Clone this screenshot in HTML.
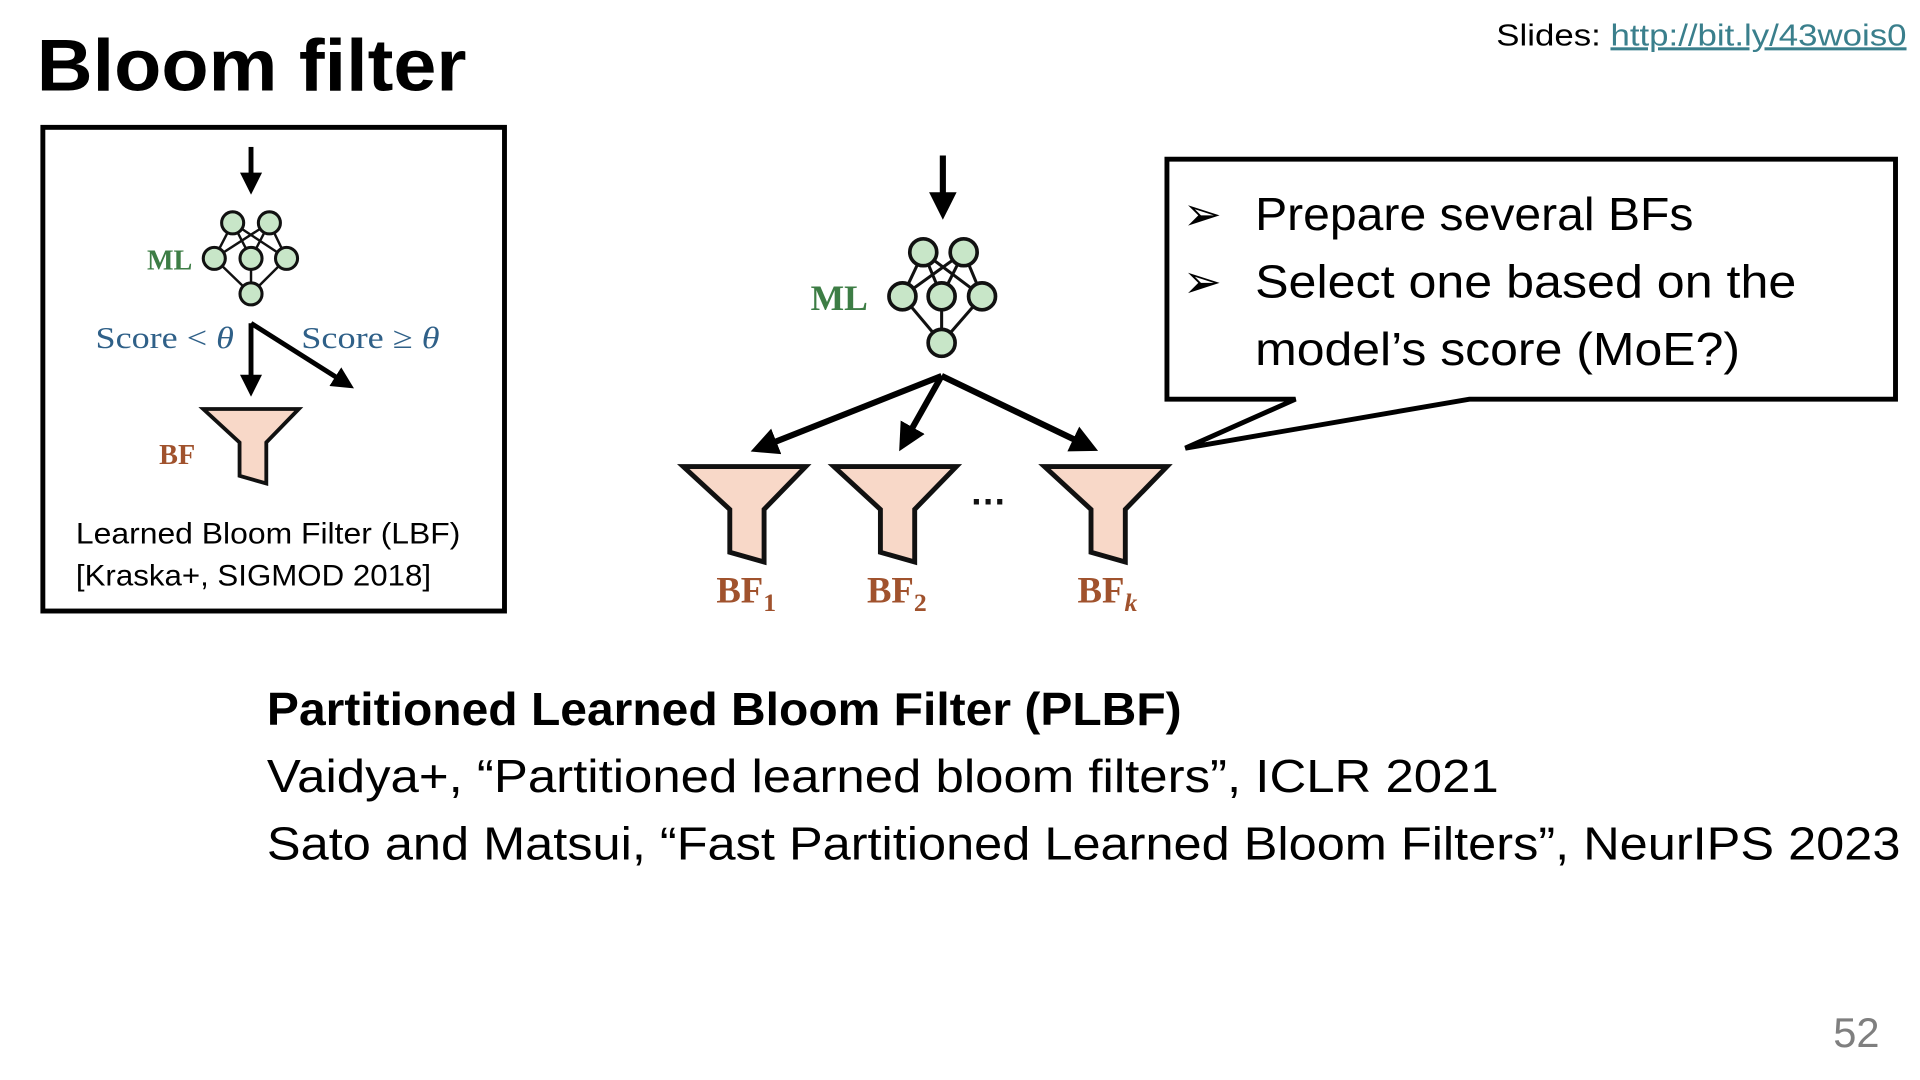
<!DOCTYPE html>
<html><head><meta charset="utf-8"><style>
html,body{margin:0;padding:0;background:#fff;}
svg{display:block;}
</style></head><body>
<svg width="1920" height="1080" viewBox="0 0 1568 882" xmlns="http://www.w3.org/2000/svg">
<defs>
<marker id="ah" markerWidth="4.5" markerHeight="4.5" refX="3" refY="2.25" orient="auto" markerUnits="strokeWidth">
<path d="M0,0 L4.5,2.25 L0,4.5 Z" fill="#000"/></marker>
<g id="fun"><path d="M0,0 L100,0 L66,35 L66,78 L38,70 L38,35 Z" fill="#f8d8c8" stroke="#111" stroke-width="4" stroke-linejoin="miter"/></g>
</defs>
<rect width="1568" height="882" fill="#fff"/>
<text x="30" y="74" font-family="Liberation Sans, sans-serif" font-weight="bold" font-size="60" fill="#000" textLength="351" lengthAdjust="spacingAndGlyphs">Bloom filter</text>
<text x="1222" y="37" font-family="Liberation Sans, sans-serif" font-size="25" fill="#000" textLength="335" lengthAdjust="spacingAndGlyphs">Slides: <tspan fill="#3a7f8c" text-decoration="underline">http://bit.ly/43wois0</tspan></text>

<!-- left box -->
<rect x="35" y="104" width="377" height="395" fill="none" stroke="#000" stroke-width="4"/>
<line x1="205" y1="120" x2="205" y2="153" stroke="#000" stroke-width="4" marker-end="url(#ah)"/>
<g stroke="#111" stroke-width="2">
<line x1="190" y1="182" x2="175" y2="211"/><line x1="190" y1="182" x2="205" y2="211"/><line x1="190" y1="182" x2="234" y2="211"/>
<line x1="220" y1="182" x2="175" y2="211"/><line x1="220" y1="182" x2="205" y2="211"/><line x1="220" y1="182" x2="234" y2="211"/>
<line x1="175" y1="211" x2="205" y2="240"/><line x1="205" y1="211" x2="205" y2="240"/><line x1="234" y1="211" x2="205" y2="240"/>
</g>
<g fill="#c8e6c8" stroke="#111" stroke-width="2.5">
<circle cx="190" cy="182" r="9"/><circle cx="220" cy="182" r="9"/>
<circle cx="175" cy="211" r="9"/><circle cx="205" cy="211" r="9"/><circle cx="234" cy="211" r="9"/>
<circle cx="205" cy="240" r="9"/>
</g>
<text x="120" y="220" font-family="Liberation Serif, serif" font-size="23" font-weight="bold" fill="#3d7d45">ML</text>
<text x="78" y="284" font-family="Liberation Serif, serif" font-size="25" fill="#2f6088" textLength="113" lengthAdjust="spacingAndGlyphs">Score &lt; <tspan font-style="italic">θ</tspan></text>
<text x="246" y="284" font-family="Liberation Serif, serif" font-size="25" fill="#2f6088" textLength="113" lengthAdjust="spacingAndGlyphs">Score ≥ <tspan font-style="italic">θ</tspan></text>
<line x1="205" y1="264" x2="205" y2="318" stroke="#000" stroke-width="4" marker-end="url(#ah)"/>
<line x1="205" y1="264" x2="284" y2="314" stroke="#000" stroke-width="4" marker-end="url(#ah)"/>
<g transform="translate(166,334) scale(0.78)"><use href="#fun"/></g>
<text x="130" y="379" font-family="Liberation Serif, serif" font-size="23" font-weight="bold" fill="#a0522d">BF</text>
<text x="62" y="444" font-family="Liberation Sans, sans-serif" font-size="24" fill="#000" textLength="314" lengthAdjust="spacingAndGlyphs">Learned Bloom Filter (LBF)</text>
<text x="62" y="478" font-family="Liberation Sans, sans-serif" font-size="24" fill="#000" textLength="290" lengthAdjust="spacingAndGlyphs">[Kraska+, SIGMOD 2018]</text>

<!-- middle diagram -->
<line x1="770" y1="127" x2="770" y2="172" stroke="#000" stroke-width="5" marker-end="url(#ah)"/>
<g stroke="#111" stroke-width="2.5">
<line x1="754" y1="206" x2="737" y2="242"/><line x1="754" y1="206" x2="769" y2="242"/><line x1="754" y1="206" x2="802" y2="242"/>
<line x1="787" y1="206" x2="737" y2="242"/><line x1="787" y1="206" x2="769" y2="242"/><line x1="787" y1="206" x2="802" y2="242"/>
<line x1="737" y1="242" x2="769" y2="280"/><line x1="769" y1="242" x2="769" y2="280"/><line x1="802" y1="242" x2="769" y2="280"/>
</g>
<g fill="#c8e6c8" stroke="#111" stroke-width="3">
<circle cx="754" cy="206" r="11"/><circle cx="787" cy="206" r="11"/>
<circle cx="737" cy="242" r="11"/><circle cx="769" cy="242" r="11"/><circle cx="802" cy="242" r="11"/>
<circle cx="769" cy="280" r="11"/>
</g>
<text x="662" y="253" font-family="Liberation Serif, serif" font-size="29" font-weight="bold" fill="#3d7d45">ML</text>
<g stroke="#000" stroke-width="5">
<line x1="769" y1="307" x2="620" y2="366" marker-end="url(#ah)"/>
<line x1="769" y1="307" x2="738" y2="362" marker-end="url(#ah)"/>
<line x1="769" y1="307" x2="890" y2="365" marker-end="url(#ah)"/>
</g>
<g transform="translate(558,381)"><use href="#fun"/></g>
<g transform="translate(681,381)"><use href="#fun"/></g>
<g transform="translate(853,381)"><use href="#fun"/></g>
<text x="792" y="412" font-family="Liberation Sans, sans-serif" font-weight="bold" font-size="30" fill="#111">…</text>
<g font-family="Liberation Serif, serif" font-size="30" font-weight="bold" fill="#a0522d">
<text x="585" y="492">BF<tspan font-size="21" dy="7">1</tspan></text>
<text x="708" y="492">BF<tspan font-size="21" dy="7">2</tspan></text>
<text x="880" y="492">BF<tspan font-size="21" dy="7" font-style="italic">k</tspan></text>
</g>

<!-- callout -->
<path d="M953,130 L1548,130 L1548,326 L1200,326 L968,366 L1058,326 L953,326 Z" fill="#fff" stroke="#000" stroke-width="4" stroke-linejoin="miter"/>
<g font-family="Liberation Sans, sans-serif" font-size="38" fill="#000">
<text x="966" y="188" font-size="38">➢</text>
<text x="1025" y="188" textLength="358" lengthAdjust="spacingAndGlyphs">Prepare several BFs</text>
<text x="966" y="243" font-size="38">➢</text>
<text x="1025" y="243" textLength="442" lengthAdjust="spacingAndGlyphs">Select one based on the</text>
<text x="1025" y="298" textLength="396" lengthAdjust="spacingAndGlyphs">model’s score (MoE?)</text>
</g>

<g font-family="Liberation Sans, sans-serif" font-size="38" fill="#000">
<text x="218" y="592" font-weight="bold" textLength="747" lengthAdjust="spacingAndGlyphs">Partitioned Learned Bloom Filter (PLBF)</text>
<text x="218" y="647" textLength="1006" lengthAdjust="spacingAndGlyphs">Vaidya+, “Partitioned learned bloom filters”, ICLR 2021</text>
<text x="218" y="702" textLength="1334" lengthAdjust="spacingAndGlyphs">Sato and Matsui, “Fast Partitioned Learned Bloom Filters”, NeurIPS 2023</text>
</g>
<text x="1535" y="855" text-anchor="end" font-family="Liberation Sans, sans-serif" font-size="34" fill="#7f7f7f">52</text>
</svg>
</body></html>
